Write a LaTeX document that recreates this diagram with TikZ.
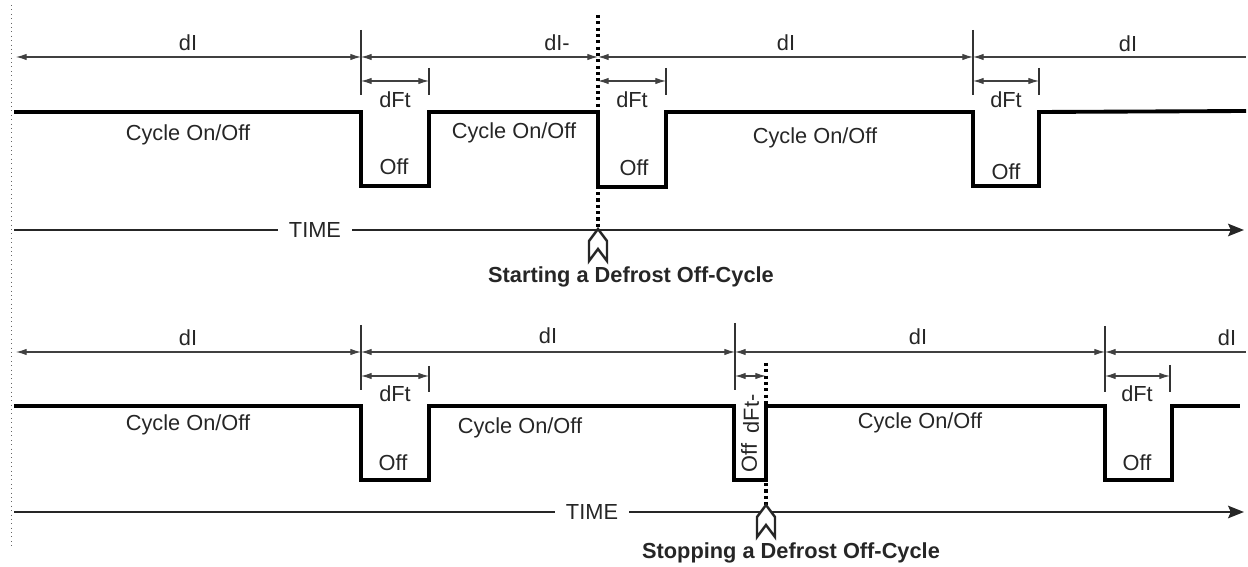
\documentclass[tikz,border=0pt]{standalone}
\usepackage{fontspec}
\setmainfont{Liberation Sans}
\usetikzlibrary{arrows.meta}
\newcommand{\unitpx}{0.02cm}

\begin{document}
\begin{tikzpicture}[x=\unitpx, y=-\unitpx,
    sig/.style={line width=2.2pt, line join=miter},
    dim/.style={draw=black!75, line width=0.6pt, {Latex[length=6pt,width=3.6pt]}-{Latex[length=6pt,width=3.6pt]}},
    dimopen/.style={draw=black!75, line width=0.6pt, {Latex[length=6pt,width=3.6pt]}-},
    tick/.style={draw=black!80, line width=0.6pt},
    lbl/.style={font=\fontsize{12.4}{14}\selectfont, text=black!85, inner sep=1pt},
    title/.style={font=\fontsize{12.4}{14}\selectfont\bfseries, text=black!85, inner sep=1pt},
    axis/.style={line width=1.5pt, draw=black!85, -{Stealth[length=9pt,width=7pt,inset=1.5pt]}},
    evtline/.style={line width=1.8pt, dash pattern=on 1.8pt off 1.8pt},
    evtmark/.style={draw=black!85, fill=white, line width=1.4pt, line join=miter}]
    \useasboundingbox (0,0) rectangle (1248,567);

    % left border
    \coordinate (b-top) at (11,5);
    \coordinate (b-bot) at (11,548);
    \draw[black!60, line width=0.5pt, dotted] (b-top) -- (b-bot);

    % First row: starting a defrost
    \coordinate (t-a) at (16,57);
    \coordinate (t-b) at (361,57);
    \coordinate (t-c) at (598,57);
    \coordinate (t-d) at (973,57);
    \coordinate (t-e) at (1246,57);
    \draw[tick] (361,30) -- (361,95);
    \draw[tick] (973,30) -- (973,95);
    \draw[dim] (t-a) -- (t-b);
    \draw[dim] (t-b) -- (t-c);
    \draw[dim] (t-c) -- (t-d);
    \draw[dimopen] (t-d) -- (t-e);
    \node[lbl] (t-di-1) at (188,43) {dI};
    \node[lbl] (t-di-2) at (557,43) {dI-};
    \node[lbl] (t-di-3) at (786,43) {dI};
    \node[lbl] (t-di-4) at (1128,44) {dI};

    \coordinate (t-f1) at (361,81);
    \coordinate (t-g1) at (429,81);
    \coordinate (t-f2) at (598,81);
    \coordinate (t-g2) at (666,81);
    \coordinate (t-f3) at (973,81);
    \coordinate (t-g3) at (1039,81);
    \draw[tick] (429,68) -- (429,95);
    \draw[tick] (666,68) -- (666,95);
    \draw[tick] (1039,68) -- (1039,95);
    \draw[dim] (t-f1) -- (t-g1);
    \draw[dim] (t-f2) -- (t-g2);
    \draw[dim] (t-f3) -- (t-g3);
    \node[lbl] (t-dft-1) at (395,100) {dFt};
    \node[lbl] (t-dft-2) at (632,100) {dFt};
    \node[lbl] (t-dft-3) at (1006,100) {dFt};

    \draw[sig] (14,112) -- (361,112) -- (361,186) -- (429,186) -- (429,112)
        -- (598,112) -- (598,187) -- (666,187) -- (666,112)
        -- (973,112) -- (973,186) -- (1039,186) -- (1039,112) -- (1246,111);
    \node[lbl] (t-cyc-1) at (188,135) {Cycle On/Off};
    \node[lbl] (t-cyc-2) at (514,133) {Cycle On/Off};
    \node[lbl] (t-cyc-3) at (815,138) {Cycle On/Off};
    \node[lbl] (t-off-1) at (394,167) {Off};
    \node[lbl] (t-off-2) at (634,168) {Off};
    \node[lbl] (t-off-3) at (1006,172) {Off};

    \coordinate (t-t0) at (14,230);
    \coordinate (t-t1) at (1244,230);
    \draw[axis] (t-t0) -- (t-t1);
    \node[lbl, fill=white, inner xsep=6pt] (t-time) at (315,230) {TIME};

    \coordinate (t-ev0) at (598,15);
    \coordinate (t-ev) at (598,229);
    \draw[evtline] (t-ev0) -- (t-ev);
    \draw[evtmark] (t-ev) -- ++(9,12) -- ++(0,20) -- ++(-9,-12) -- ++(-9,12) -- ++(0,-20) -- cycle;
    \node[title] (t-title) at (631,277) {Starting a Defrost Off-Cycle};

    % Second row: stopping a defrost
    \coordinate (s-a) at (16,352);
    \coordinate (s-b) at (361,352);
    \coordinate (s-c) at (735,352);
    \coordinate (s-d) at (1105,352);
    \coordinate (s-e) at (1246,352);
    \draw[tick] (361,325) -- (361,390);
    \draw[tick] (735,323) -- (735,390);
    \draw[tick] (1105,326) -- (1105,392);
    \draw[dim] (s-a) -- (s-b);
    \draw[dim] (s-b) -- (s-c);
    \draw[dim] (s-c) -- (s-d);
    \draw[dimopen] (s-d) -- (s-e);
    \node[lbl] (s-di-1) at (188,338) {dI};
    \node[lbl] (s-di-2) at (548,336) {dI};
    \node[lbl] (s-di-3) at (918,337) {dI};
    \node[lbl] (s-di-4) at (1227,338) {dI};

    \coordinate (s-f1) at (361,376);
    \coordinate (s-g1) at (429,376);
    \coordinate (s-f2) at (735,376);
    \coordinate (s-g2) at (766,376);
    \coordinate (s-f3) at (1105,376);
    \coordinate (s-g3) at (1170,376);
    \draw[tick] (429,366) -- (429,392);
    \draw[tick] (1170,365) -- (1170,392);
    \draw[dim] (s-f1) -- (s-g1);
    \draw[dim] (s-f2) -- (s-g2);
    \draw[dim] (s-f3) -- (s-g3);
    \node[lbl] (s-dft-1) at (395,394) {dFt};
    \node[lbl, rotate=90] (s-dft-2) at (751,414) {dFt-};
    \node[lbl] (s-dft-3) at (1137,394) {dFt};

    \draw[sig] (14,406) -- (361,406) -- (361,480) -- (429,480) -- (429,406)
        -- (734,406) -- (734,480) -- (766,480) -- (766,406)
        -- (1105,406) -- (1105,480) -- (1172,480) -- (1172,406) -- (1240,406);
    \node[lbl] (s-cyc-1) at (188,425) {Cycle On/Off};
    \node[lbl] (s-cyc-2) at (520,428) {Cycle On/Off};
    \node[lbl] (s-cyc-3) at (920,423) {Cycle On/Off};
    \node[lbl] (s-off-1) at (393,463) {Off};
    \node[lbl, rotate=90] (s-off-2) at (749,458) {Off};
    \node[lbl] (s-off-3) at (1137,463) {Off};

    \coordinate (s-t0) at (14,512);
    \coordinate (s-t1) at (1244,512);
    \draw[axis] (s-t0) -- (s-t1);
    \node[lbl, fill=white, inner xsep=6pt] (s-time) at (592,512) {TIME};

    \coordinate (s-ev0) at (766,363);
    \coordinate (s-ev) at (766,505);
    \draw[evtline] (s-ev0) -- (s-ev);
    \draw[evtmark] (s-ev) -- ++(9,12) -- ++(0,20) -- ++(-9,-12) -- ++(-9,12) -- ++(0,-20) -- cycle;
    \node[title] (s-title) at (791,553) {Stopping a Defrost Off-Cycle};

\end{tikzpicture}
\end{document}
